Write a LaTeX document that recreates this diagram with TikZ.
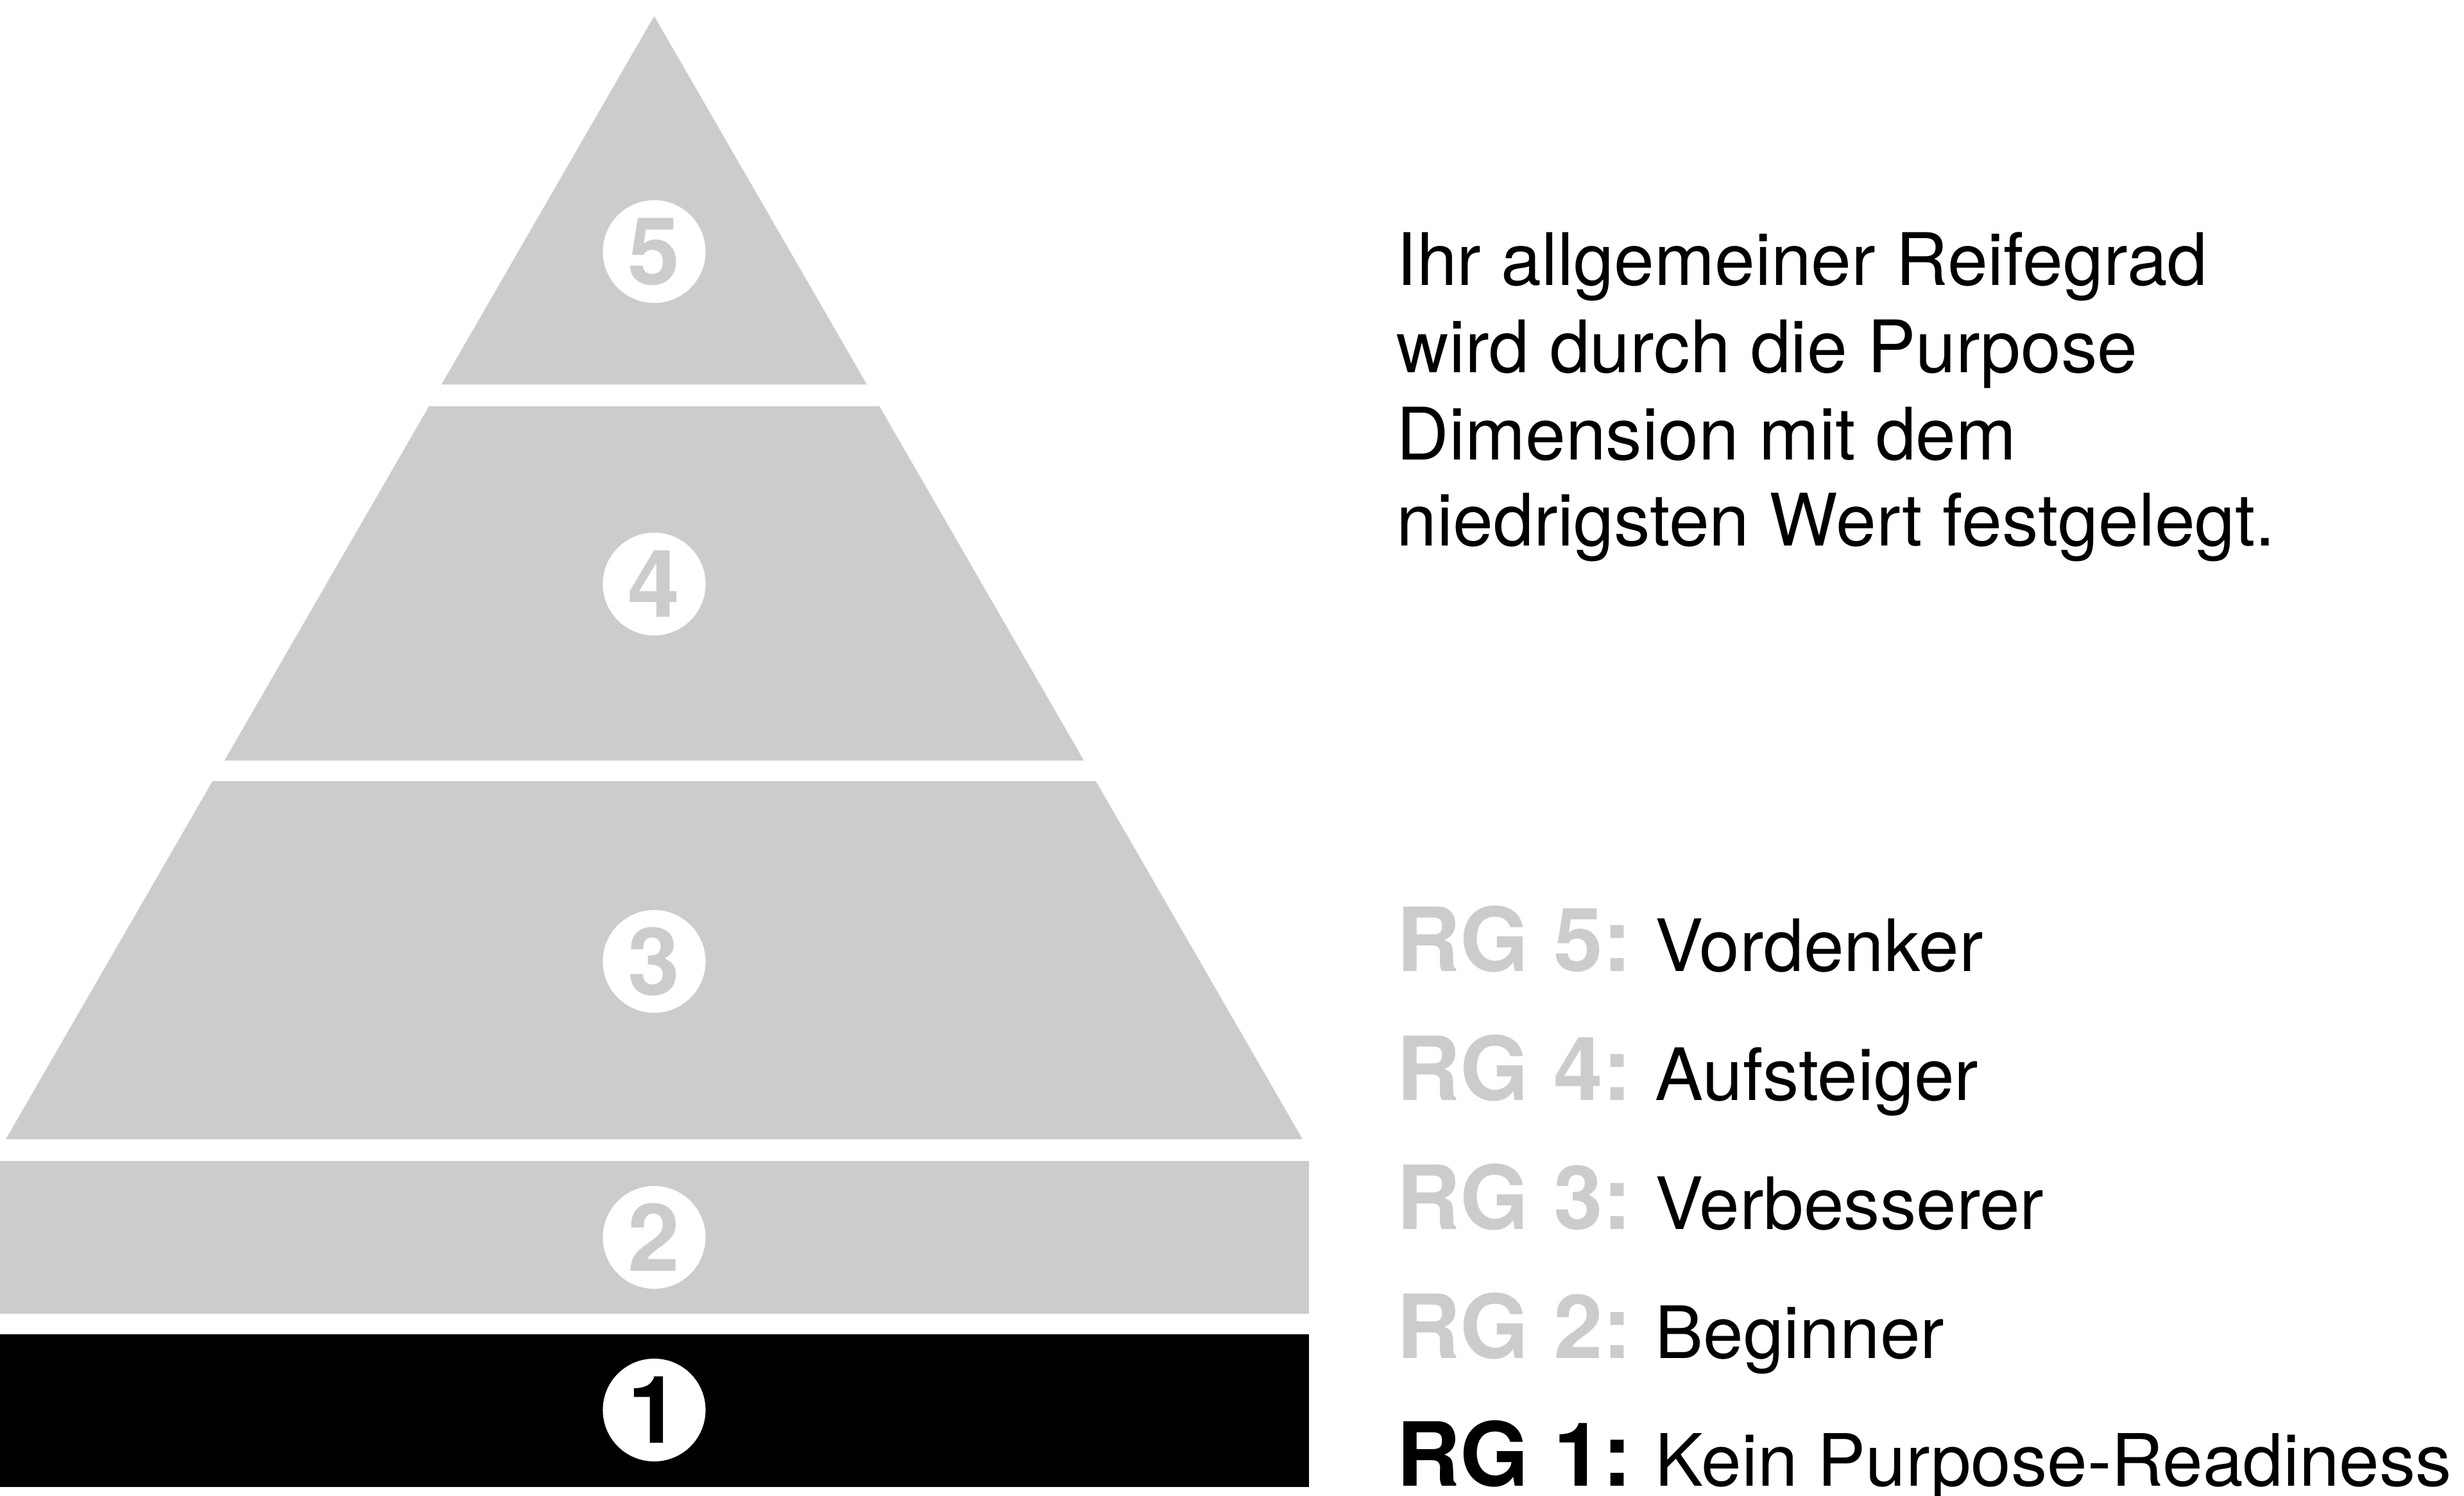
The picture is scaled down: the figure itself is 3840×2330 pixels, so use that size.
\documentclass[tikz,border=0pt]{standalone}
\usepackage{fontspec}
\setmainfont{TeX Gyre Heros}
\definecolor{tiergray}{HTML}{CCCCCC}
\begin{document}
\begin{tikzpicture}[x=0.01cm,y=-0.01cm,
  tier/.style={fill=tiergray,draw=none},
  badge/.style={circle,fill=white,minimum size=1.6cm,inner sep=0pt,
    font=\fontsize{41.5}{41.5}\selectfont\bfseries,text=tiergray},
  para/.style={anchor=base west,inner sep=0pt,font=\fontsize{32.1}{38.6}\selectfont},
  rg/.style={anchor=base west,inner sep=0pt,font=\fontsize{39.2}{39.2}\selectfont\bfseries,text=tiergray},
  lbl/.style={anchor=base west,inner sep=0pt,font=\fontsize{32}{32}\selectfont}]
\useasboundingbox (0,0) rectangle (3840,2330);
% pyramid tiers
\path[tier] (1019.5,25) -- (1350.9,599) -- (688.1,599) -- cycle;
\path[tier] (668.5,633) -- (1370.5,633) -- (1689.2,1185) -- (349.8,1185) -- cycle;
\path[tier] (331.3,1217) -- (1707.7,1217) -- (2029.9,1775) -- (9.1,1775) -- cycle;
\path[tier] (0,1809) rectangle (2040,2047);
\path[fill=black] (0,2079) rectangle (2040,2317);
% badges
\node[badge] (b5) at (1019.5,392) {5};
\node[badge] (b4) at (1019.5,910) {4};
\node[badge] (b3) at (1019.5,1498) {3};
\node[badge] (b2) at (1019.5,1928) {2};
\node[badge,text=black] (b1) at (1019.5,2197) {1};
% paragraph
\node[para] (p1) at (2176,444) {Ihr allgemeiner Reifegrad};
\node[para] (p2) at (2176,580) {wird durch die Purpose};
\node[para] (p3) at (2176,716) {Dimension mit dem};
\node[para] (p4) at (2176,850) {niedrigsten Wert festgelegt.};
% legend
\node[rg] (r5) at (2176,1513) {RG 5:};
\node[lbl] (l5) at (2579,1513) {Vordenker};
\node[rg] (r4) at (2176,1714) {RG 4:};
\node[lbl] (l4) at (2579,1714) {Aufsteiger};
\node[rg] (r3) at (2176,1915) {RG 3:};
\node[lbl] (l3) at (2579,1915) {Verbesserer};
\node[rg] (r2) at (2176,2116) {RG 2:};
\node[lbl] (l2) at (2579,2116) {Beginner};
\node[rg,text=black] (r1) at (2176,2315) {RG 1:};
\node[lbl] (l1) at (2579,2315) {Kein Purpose-Readiness};
\end{tikzpicture}
\end{document}
